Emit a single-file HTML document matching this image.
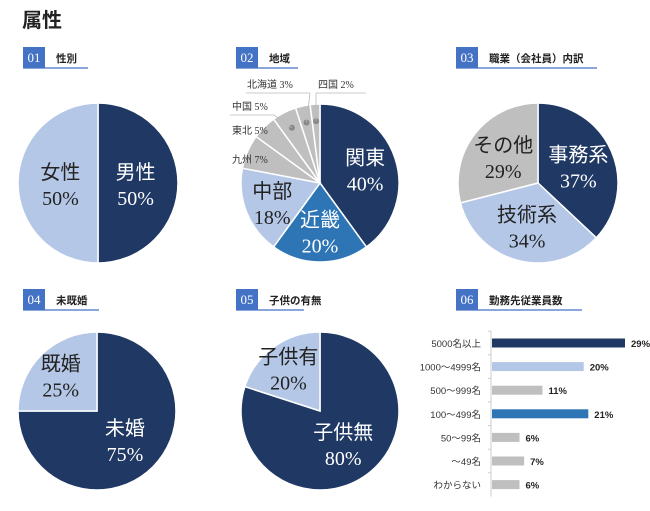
<!DOCTYPE html>
<html><head><meta charset="utf-8">
<style>
body{margin:0;background:#fff;width:650px;height:511px;overflow:hidden}
svg{display:block}
.jp{font-family:"Liberation Serif","Noto Sans CJK JP",serif}
.hd{font-family:"Liberation Sans","Noto Sans CJK JP",sans-serif;font-weight:bold;font-size:10.5px;fill:#222}
.num{font-family:"Liberation Serif",serif;font-size:13px;fill:#fff}
</style></head>
<body>
<svg id="c" width="650" height="511" xmlns="http://www.w3.org/2000/svg">
<text x="22" y="27" font-family="Liberation Sans, Noto Sans CJK JP, sans-serif" font-weight="bold" font-size="20" fill="#222">属性</text>
</svg>
<script>
const DARK='#1f3864',LIGHT='#b4c7e7',MID='#2e75b6',GRAY='#bfbfbf';
const sexLabels=['男性','女性'];const sexValues=[50,50];
const regionLabels=['関東','近畿','中部','九州','東北','中国','北海道','四国'];
const regionValues=[40,20,18,7,5,5,3,2];
const jobLabels=['事務系','技術系','その他'];const jobValues=[37,34,29];
const maritalLabels=['未婚','既婚'];const maritalValues=[75,25];
const childLabels=['子供無','子供有'];const childValues=[80,20];
const sizeLabels=['5000名以上','1000～4999名','500～999名','100～499名','50～99名','～49名','わからない'];
const sizeValues=[29,20,11,21,6,7,6];
const NS='http://www.w3.org/2000/svg';
const svg=document.getElementById('c');
function el(t,a,p){const e=document.createElementNS(NS,t);for(const k in a)e.setAttribute(k,a[k]);(p||svg).appendChild(e);return e;}
function header(x,y,num,title,ulEnd,name){
 const g=el('g',{});
 
 
 el('rect',{x:x,y:y,width:22,height:21,fill:'#4472c4'},g);
 const n=el('text',{x:x+11,y:y+15,'text-anchor':'middle',class:'num'},g);n.textContent=num;
 const t=el('text',{x:x+33,y:y+15,class:'hd'},g);t.textContent=title;
 el('line',{x1:x,y1:y+21,x2:ulEnd,y2:y+21,stroke:'#4472c4','stroke-width':1.2},g);
}
header(23,47,'01','性別',88,'header-gender');
header(236,47,'02','地域',298,'header-region');
header(456,47,'03','職業（会社員）内訳',597,'header-occupation');
header(23,289,'04','未既婚',99,'header-marital');
header(236,289,'05','子供の有無',304,'header-children');
header(456,289,'06','勤務先従業員数',582,'header-company-size');
function pt(cx,cy,r,a){return [cx+r*Math.sin(a),cy-r*Math.cos(a)];}
function pie(cx,cy,r,vals,labels,colors,name,inside){
 const g=el('g',{});
 
 
 const tot=vals.reduce((a,b)=>a+b,0);let a0=0;
 vals.forEach((v,i)=>{
  const a1=a0+v/tot*2*Math.PI;
  const p0=pt(cx,cy,r,a0),p1=pt(cx,cy,r,a1);
  const big=(a1-a0)>Math.PI?1:0;
  const p=el('path',{d:`M${cx},${cy}L${p0[0]},${p0[1]}A${r},${r} 0 ${big} 1 ${p1[0]},${p1[1]}Z`,fill:colors[i],stroke:'#fff','stroke-width':1.5},g);
  
  
  if(inside[i]){
   const m=(a0+a1)/2,c=pt(cx,cy,r*inside[i],m);
   const fc=colors[i]==DARK||colors[i]==MID?'#fff':'#222';
   const t1=el('text',{x:c[0],y:c[1]-4,'text-anchor':'middle','font-size':20,fill:fc,class:'jp'},g);t1.textContent=labels[i];
   const t2=el('text',{x:c[0],y:c[1]+22,'text-anchor':'middle','font-size':20,fill:fc,class:'jp'},g);t2.textContent=v+'%';
  }
  a0=a1;
 });
}
pie(98,183,80,sexValues,sexLabels,[DARK,LIGHT],'pie-gender',[0.47,0.47]);
pie(320,183,79,regionValues,regionLabels,[DARK,MID,LIGHT,GRAY,GRAY,GRAY,GRAY,GRAY],'pie-region',[0.6,0.6,0.65,0,0,0,0,0]);
pie(538,183,80,jobValues,jobLabels,[DARK,LIGHT,GRAY],'pie-occupation',[0.55,0.55,0.55]);
pie(97,411,79,maritalValues,maritalLabels,[DARK,LIGHT],'pie-marital',[0.5,0.65]);
pie(320,411,79,childValues,childLabels,[DARK,LIGHT],'pie-children',[0.5,0.68]);
(function(){
 const tot=regionValues.reduce((a,b)=>a+b,0);let cum=0;const mids=[];
 regionValues.forEach(v=>{mids.push((cum+v/2)/tot*2*Math.PI);cum+=v;});
 const pos={3:[232,163],4:[232,134],5:[232,110],6:[247,88],7:[318,88]};
 for(const i in pos){
  const [x,y]=pos[i];
  const t=el('text',{x:x,y:y,'font-size':10,fill:'#333',class:'jp'});
  t.textContent=regionLabels[i]+' '+regionValues[i]+'%';
  
  
  if(i>=5){
   const d=pt(320,183,62,mids[i]);
   el('circle',{cx:d[0],cy:d[1],r:3,fill:'#888'});
   if(i==5){el('polyline',{points:`230,115 274,115 ${d[0]},${d[1]}`,fill:'none',stroke:'#bbb','stroke-width':0.8});}
   if(i==6){el('polyline',{points:`246,93 310,93 ${d[0]},${d[1]}`,fill:'none',stroke:'#bbb','stroke-width':0.8});}
   if(i==7){el('polyline',{points:`366,93 316,93 ${d[0]},${d[1]}`,fill:'none',stroke:'#bbb','stroke-width':0.8});}
  }
 }
})();
const x0=492,perPct=133/29,yTop=343,step=23.6;
const bg=el('g',{});


const bcolors=[DARK,LIGHT,GRAY,MID,GRAY,GRAY,GRAY];
el('line',{x1:x0-1,y1:yTop-12,x2:x0-1,y2:yTop+6*step+12,stroke:'#ccc','stroke-width':1},bg);
sizeValues.forEach((v,i)=>{
 const y=yTop+i*step;
 const r=el('rect',{x:x0,y:y-4.5,width:v*perPct,height:9,fill:bcolors[i]},bg);
 
 
 const l=el('text',{x:481,y:y+4,'text-anchor':'end','font-size':9.5,fill:'#333','font-family':'Liberation Sans, Noto Sans CJK JP, sans-serif'},bg);l.textContent=sizeLabels[i];
 const vl=el('text',{x:x0+v*perPct+6,y:y+4,'font-size':9.5,'font-weight':'bold',fill:'#222','font-family':'Liberation Sans, sans-serif'},bg);vl.textContent=v+'%';
 el('line',{x1:x0-4,y1:y-step/2,x2:x0-1,y2:y-step/2,stroke:'#ccc'},bg);
});
</script>
</body></html>
